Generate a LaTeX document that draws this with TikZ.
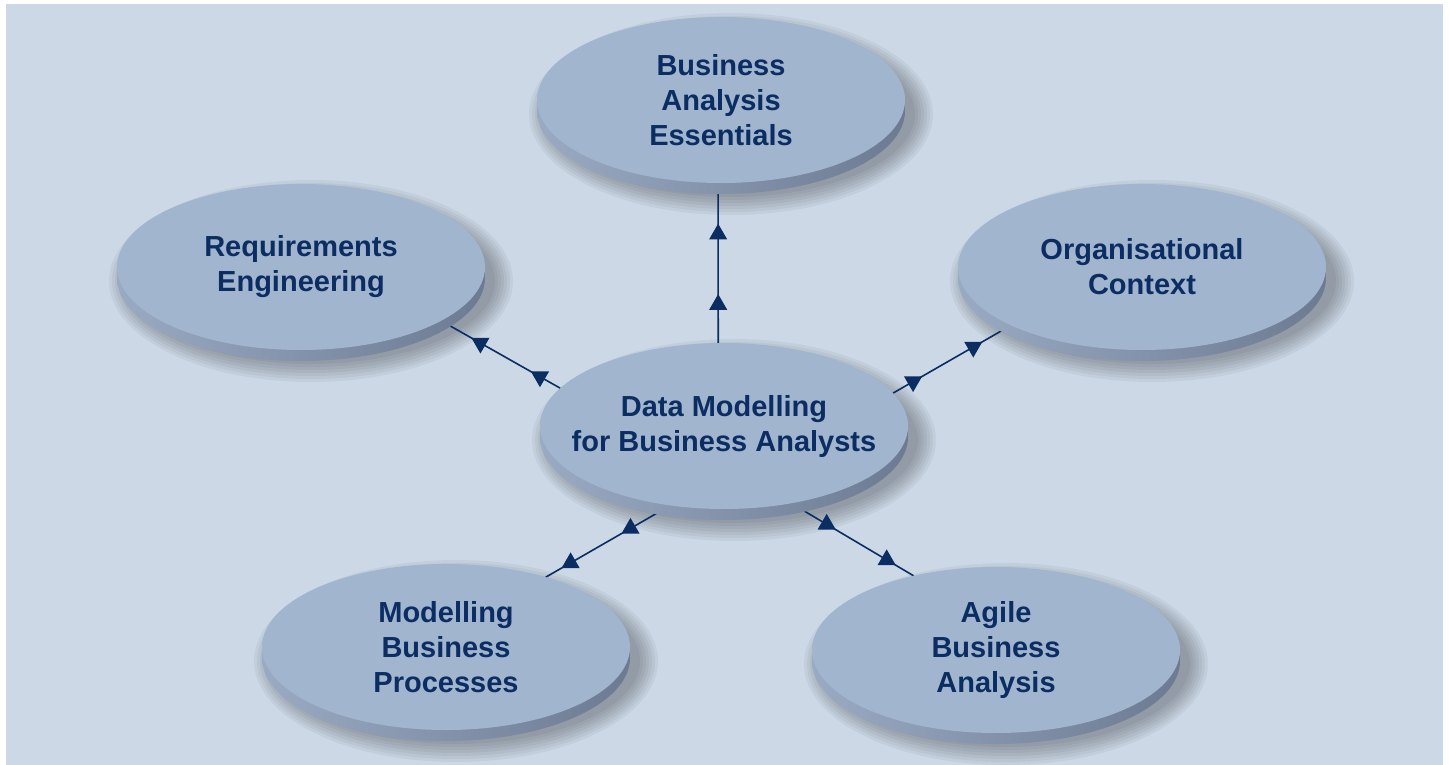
\documentclass[tikz,border=0pt]{standalone}
\usepackage{fontspec}
\setmainfont{Liberation Sans}
\usetikzlibrary{shapes.geometric,shadows}
\definecolor{panel}{HTML}{CCD8E6}
\definecolor{face}{HTML}{A1B5CF}
\definecolor{rimlight}{HTML}{9AAAC2}
\definecolor{rimdark}{HTML}{6C7B92}
\definecolor{navy}{HTML}{0B2D62}
\pgfdeclarelayer{back}
\pgfsetlayers{back,main}
\tikzset{
  disc/.style={ellipse, fill=face, minimum width=368pt, minimum height=166pt,
    inner xsep=-30pt, inner ysep=0pt, outer sep=0pt, align=center, text=navy,
    font=\fontsize{29}{35}\selectfont\bfseries,
    general shadow={shadow xshift=0pt, shadow yshift=-11pt, left color=rimlight, right color=rimdark}},
  halo/.style={fill=black, opacity=0.045},
  link/.style={draw=navy, line width=1.6pt},
  uptri/.style={regular polygon, regular polygon sides=3, fill=navy, minimum size=21pt, inner sep=0pt},
  downtri/.style={uptri, shape border rotate=180},
}

\begin{document}
\begin{tikzpicture}[x=1pt,y=-1pt]
  \useasboundingbox (0,0) rectangle (1449,765);

  % hub and the five topics round it
  \node[disc] (dm) at (724,426) {Data Modelling\\for Business Analysts};
  \node[disc] (bae) at (721,100) {Business\\Analysis\\Essentials};
  \node[disc] (re) at (301,267) {Requirements\\Engineering};
  \node[disc] (oc) at (1142,267) {Organisational\\Context};
  \node[disc] (mbp) at (446,647) {Modelling\\Business\\Processes};
  \node[disc] (aba) at (996,650) {Agile\\Business\\Analysis};

  \begin{pgfonlayer}{back}
    \fill[white] (0,0) rectangle (1449,765);
    \fill[panel] (6,4) rectangle (1443,765);
    % soft shadows under the discs
    \foreach \n in {bae,re,oc,dm,mbp,aba}
      \foreach \k in {0,3,...,18}
        \fill[halo] ([shift={(10,14)}]\n.center) ellipse [x radius=184+\k, y radius=83+\k];
    \draw[link] (dm.94) -- node[uptri,pos=0.24]{} node[uptri,pos=0.68]{} (bae.-92);
    \draw[link] (dm.167) -- node[downtri,pos=0.17]{} node[downtri,pos=0.67]{} (re.-21);
    \draw[link] (dm.11) -- node[downtri,pos=0.17]{} node[downtri,pos=0.68]{} (oc.204);
    \draw[link] (dm.236) -- node[uptri,pos=0.32]{} node[uptri,pos=0.80]{} (mbp.35);
    \draw[link] (dm.-49) -- node[uptri,pos=0.29]{} node[uptri,pos=0.78]{} (aba.138);
  \end{pgfonlayer}
\end{tikzpicture}
\end{document}
